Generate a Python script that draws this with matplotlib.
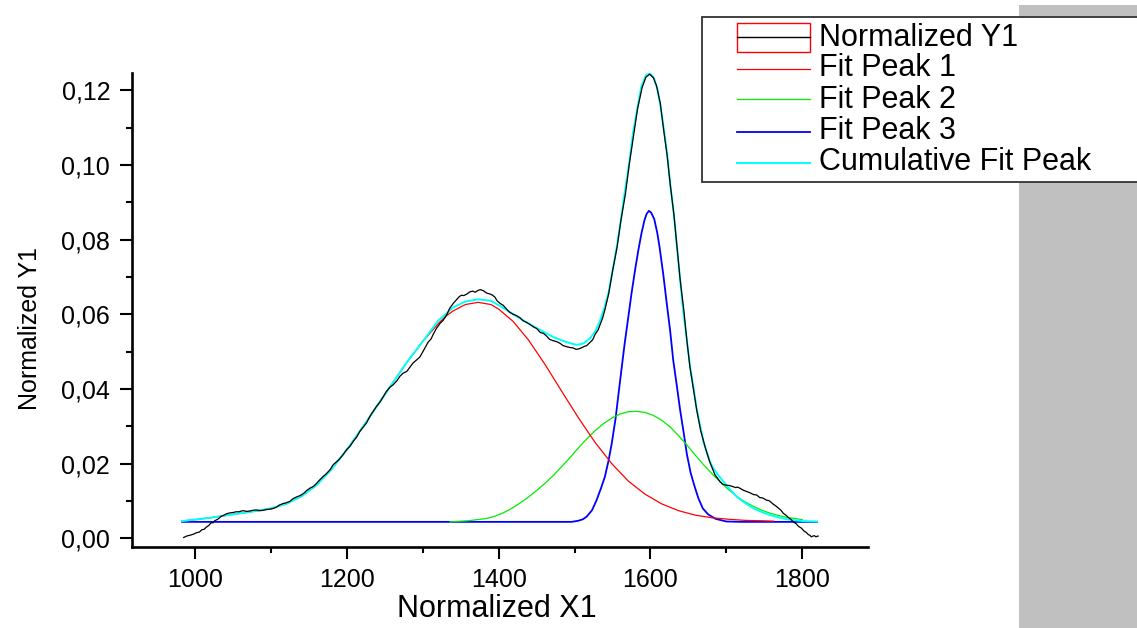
import matplotlib
matplotlib.use("Agg")
import matplotlib.pyplot as plt
from matplotlib.ticker import MultipleLocator, FuncFormatter
from matplotlib.patches import Rectangle
from matplotlib.lines import Line2D

# ---------------- data ----------------
data_x = [985, 989, 993, 998, 1002, 1006, 1009, 1012, 1015, 1018, 1021, 1024, 1026, 1030, 1034, 1038,
          1042, 1046, 1050, 1054, 1058, 1061, 1064, 1068, 1072, 1076, 1081, 1085, 1090, 1094, 1099, 1103,
          1107, 1111, 1116, 1120, 1125, 1129, 1134, 1138, 1143, 1147, 1152, 1156, 1160, 1165, 1169, 1173,
          1178, 1182, 1187, 1191, 1195, 1200, 1204, 1209, 1213, 1217, 1222, 1226, 1230, 1235, 1239, 1244,
          1248, 1252, 1257, 1261, 1266, 1270, 1274, 1279, 1283, 1287, 1292, 1296, 1300, 1304, 1307, 1311,
          1314, 1318, 1323, 1327, 1332, 1335, 1338, 1341, 1345, 1348, 1351, 1354, 1358, 1362, 1366, 1369,
          1373, 1376, 1380, 1384, 1389, 1392, 1395, 1398, 1402, 1406, 1410, 1414, 1419, 1423, 1428, 1432,
          1437, 1441, 1446, 1450, 1455, 1459, 1463, 1467, 1472, 1476, 1481, 1485, 1490, 1494, 1498, 1502,
          1505, 1509, 1513, 1516, 1520, 1524, 1527, 1531, 1534, 1537, 1540, 1545, 1550, 1556, 1561, 1567,
          1572, 1578, 1583, 1589, 1594, 1599, 1604, 1608, 1613, 1617, 1622, 1626, 1631, 1635, 1639, 1644,
          1648, 1652, 1657, 1661, 1666, 1672, 1678, 1685, 1692, 1695, 1698, 1701, 1705, 1709, 1712, 1715,
          1718, 1722, 1727, 1731, 1736, 1740, 1744, 1748, 1753, 1756, 1758, 1762, 1765, 1769, 1772, 1775,
          1779, 1782, 1785, 1788, 1792, 1795, 1799, 1802, 1805, 1808, 1810, 1812, 1814, 1816, 1818, 1819, 1821]
data_y = [0.0002, 0.0006, 0.0008, 0.0011, 0.0015, 0.0017, 0.0023, 0.0024, 0.0030, 0.0034, 0.0041, 0.0042,
          0.0047, 0.0051, 0.0058, 0.0062, 0.0066, 0.0068, 0.0069, 0.0071, 0.0071, 0.0073, 0.0074, 0.0072,
          0.0073, 0.0075, 0.0076, 0.0074, 0.0075, 0.0077, 0.0078, 0.0080, 0.0083, 0.0089, 0.0093, 0.0095,
          0.0099, 0.0106, 0.0111, 0.0114, 0.0120, 0.0128, 0.0135, 0.0139, 0.0147, 0.0158, 0.0166, 0.0173,
          0.0184, 0.0197, 0.0206, 0.0214, 0.0224, 0.0238, 0.0246, 0.0261, 0.0271, 0.0286, 0.0299, 0.0309,
          0.0325, 0.0341, 0.0353, 0.0366, 0.0379, 0.0393, 0.0405, 0.0411, 0.0422, 0.0434, 0.0442, 0.0447,
          0.0458, 0.0469, 0.0478, 0.0485, 0.0499, 0.0514, 0.0525, 0.0534, 0.0547, 0.0562, 0.0576, 0.0584,
          0.0600, 0.0614, 0.0623, 0.0631, 0.0640, 0.0647, 0.0651, 0.0650, 0.0654, 0.0660, 0.0662, 0.0659,
          0.0664, 0.0666, 0.0663, 0.0657, 0.0654, 0.0651, 0.0646, 0.0636, 0.0629, 0.0624, 0.0615, 0.0606,
          0.0600, 0.0597, 0.0591, 0.0583, 0.0578, 0.0573, 0.0566, 0.0562, 0.0551, 0.0549, 0.0542, 0.0533,
          0.0529, 0.0527, 0.0522, 0.0516, 0.0513, 0.0511, 0.0510, 0.0506, 0.0507, 0.0510, 0.0514, 0.0516,
          0.0524, 0.0532, 0.0546, 0.0558, 0.0574, 0.0590, 0.0612, 0.0655, 0.0715, 0.0779, 0.0850, 0.0922,
          0.1000, 0.1082, 0.1150, 0.1207, 0.1235, 0.1243, 0.1233, 0.1212, 0.1165, 0.1100, 0.1025, 0.0949,
          0.0865, 0.0779, 0.0695, 0.0610, 0.0530, 0.0459, 0.0395, 0.0343, 0.0290, 0.0245, 0.0205, 0.0170,
          0.0151, 0.0145, 0.0143, 0.0142, 0.0141, 0.0138, 0.0136, 0.0137, 0.0134, 0.0129, 0.0125, 0.0122,
          0.0117, 0.0116, 0.0109, 0.0108, 0.0102, 0.0101, 0.0098, 0.0091, 0.0087, 0.0080, 0.0075, 0.0067,
          0.0061, 0.0055, 0.0051, 0.0044, 0.0039, 0.0032, 0.0027, 0.0020, 0.0016, 0.0010, 0.0008, 0.0004,
          0.0006, 0.0007, 0.0004, 0.0005, 0.0006]

peak1_x = [983, 1000, 1020, 1040, 1060, 1080, 1100, 1120, 1140, 1160, 1180, 1200,
           1220, 1240, 1260, 1280, 1300, 1320, 1330, 1340, 1356, 1373, 1390, 1400,
           1419, 1439, 1461, 1483, 1505, 1527, 1549, 1571, 1593, 1615, 1637, 1659,
           1681, 1703, 1725, 1745, 1762]
peak1_y = [0.0046, 0.0050, 0.0055, 0.0061, 0.0067, 0.0073, 0.0080, 0.0092, 0.0112, 0.0142, 0.0185, 0.0237,
           0.0295, 0.0355, 0.0415, 0.0474, 0.0527, 0.0574, 0.0594, 0.0609, 0.0626, 0.0632, 0.0626, 0.0614,
           0.0581, 0.0532, 0.0466, 0.0394, 0.0323, 0.0257, 0.0200, 0.0153, 0.0118, 0.0092, 0.0074, 0.0062,
           0.0055, 0.0051, 0.0048, 0.0047, 0.0046]

peak2_x = [1336, 1360, 1384, 1395, 1406, 1417, 1428, 1439, 1450, 1461, 1472, 1483,
           1494, 1505, 1516, 1527, 1538, 1549, 1560, 1571, 1582, 1593, 1604, 1615,
           1626, 1637, 1648, 1659, 1670, 1681, 1692, 1703, 1714, 1725, 1736, 1747,
           1758, 1769, 1780, 1790, 1800]
peak2_y = [0.0044, 0.0047, 0.0053, 0.0059, 0.0068, 0.0080, 0.0094, 0.0110, 0.0128, 0.0147, 0.0168, 0.0192,
           0.0216, 0.0242, 0.0266, 0.0288, 0.0307, 0.0322, 0.0333, 0.0339, 0.0340, 0.0337, 0.0329, 0.0316,
           0.0298, 0.0275, 0.0250, 0.0223, 0.0197, 0.0173, 0.0151, 0.0130, 0.0112, 0.0097, 0.0085, 0.0075,
           0.0067, 0.0061, 0.0056, 0.0053, 0.0050]

peak3_x = [983, 1496, 1505, 1511, 1516, 1523, 1529, 1535, 1540, 1545, 1549, 1554,
           1558, 1562, 1566, 1571, 1575, 1580, 1584, 1588, 1592, 1595, 1598, 1601,
           1605, 1609, 1612, 1617, 1621, 1626, 1630, 1635, 1639, 1644, 1648, 1653,
           1658, 1663, 1669, 1676, 1686, 1700, 1720, 1819]
peak3_y = [0.0044, 0.0044, 0.0047, 0.0051, 0.0058, 0.0075, 0.0102, 0.0135, 0.0165, 0.0210, 0.0254, 0.0320,
           0.0388, 0.0455, 0.0521, 0.0595, 0.0655, 0.0722, 0.0771, 0.0815, 0.0851, 0.0869, 0.0877, 0.0872,
           0.0855, 0.0818, 0.0780, 0.0705, 0.0637, 0.0555, 0.0477, 0.0405, 0.0345, 0.0280, 0.0225, 0.0175,
           0.0140, 0.0108, 0.0080, 0.0064, 0.0052, 0.0045, 0.0044, 0.0044]

cum_x = [983, 1000, 1020, 1040, 1060, 1080, 1100, 1120, 1140, 1160, 1180, 1200,
         1220, 1240, 1260, 1280, 1300, 1320, 1340, 1356, 1373, 1390, 1402, 1415,
         1428, 1450, 1472, 1490, 1503, 1512, 1520, 1527, 1533, 1539, 1545, 1550,
         1556, 1561, 1566, 1572, 1577, 1583, 1588, 1594, 1599, 1604, 1609, 1613,
         1617, 1622, 1626, 1631, 1635, 1639, 1643, 1648, 1652, 1657, 1661, 1666,
         1670, 1675, 1680, 1686, 1692, 1703, 1714, 1725, 1736, 1747, 1758, 1769,
         1780, 1791, 1802, 1819]
cum_y = [0.0046, 0.0050, 0.0055, 0.0061, 0.0067, 0.0073, 0.0080, 0.0092, 0.0112, 0.0142, 0.0185, 0.0237,
         0.0295, 0.0355, 0.0415, 0.0474, 0.0527, 0.0582, 0.0618, 0.0634, 0.0640, 0.0636, 0.0622, 0.0606,
         0.0589, 0.0563, 0.0539, 0.0525, 0.0518, 0.0522, 0.0535, 0.0553, 0.0580, 0.0615, 0.0660, 0.0715,
         0.0785, 0.0852, 0.0925, 0.1005, 0.1085, 0.1155, 0.1210, 0.1240, 0.1245, 0.1235, 0.1205, 0.1160,
         0.1105, 0.1030, 0.0950, 0.0865, 0.0780, 0.0695, 0.0612, 0.0530, 0.0462, 0.0400, 0.0345, 0.0297,
         0.0257, 0.0225, 0.0198, 0.0178, 0.0162, 0.0135, 0.0111, 0.0094, 0.0080, 0.0070, 0.0062, 0.0056,
         0.0051, 0.0048, 0.0046, 0.0045]

legend_labels = ["Normalized Y1", "Fit Peak 1", "Fit Peak 2", "Fit Peak 3", "Cumulative Fit Peak"]
x_label = "Normalized X1"
y_label = "Normalized Y1"

# ---------------- figure ----------------
W, H = 1137, 628
plt.rcParams['font.family'] = ['Liberation Sans', 'DejaVu Sans']
fig = plt.figure(figsize=(W / 100, H / 100), dpi=100)
fig.patch.set_facecolor('white')

def fx(px):
    return px / W

def fy(py):
    return 1 - py / H

# gray strip on the right
fig.add_artist(Rectangle((fx(1019), 0), 1 - fx(1019), fy(5), transform=fig.transFigure,
                         facecolor='#c0c0c0', edgecolor='none', zorder=0))

ax = fig.add_axes([fx(131.7), fy(546.7), (868.3 - 131.7) / W, (546.7 - 72.7) / H])
ax.set_facecolor('none')

ax.plot(peak3_x, peak3_y, color='#0000ff', lw=1.3, zorder=2)
ax.plot(peak2_x, peak2_y, color='#00ee00', lw=0.9, zorder=3)
ax.plot(peak1_x, peak1_y, color='#ff0000', lw=0.9, zorder=4)
ax.plot(cum_x, cum_y, color='#00ffff', lw=1.4, zorder=5)
ax.plot(data_x, data_y, color='black', lw=0.9, zorder=6)

ax.set_xlim(916.6, 1887)
ax.set_ylim(-0.00225, 0.1247)
ax.xaxis.set_major_locator(MultipleLocator(200))
ax.xaxis.set_minor_locator(MultipleLocator(100))
ax.yaxis.set_major_locator(MultipleLocator(0.02))
ax.yaxis.set_minor_locator(MultipleLocator(0.01))
ax.yaxis.set_major_formatter(FuncFormatter(lambda v, p: f"{v:.2f}".replace('.', ',')))

for s in ['top', 'right']:
    ax.spines[s].set_visible(False)
for s in ['left', 'bottom']:
    ax.spines[s].set_linewidth(1.9)
ax.tick_params(which='major', direction='out', length=8.5, width=1.5, pad=7, labelsize=18)
ax.tick_params(which='minor', direction='out', length=4, width=1.5)

ax.set_xlabel(x_label, fontsize=22)
ax.set_ylabel(y_label, fontsize=18)
ax.xaxis.set_label_coords(0.496, -0.100)
ax.yaxis.set_label_coords(-0.122, 0.461)

# ---------------- legend (drawn in figure pixels) ----------------
fig.add_artist(Rectangle((fx(701.7), fy(181.7)), fx(W + 20) - fx(701.7), fy(16.7) - fy(181.7),
                         transform=fig.transFigure, facecolor='white', edgecolor='#333333',
                         lw=1.3, zorder=10, clip_on=False))
h_x0, h_x1 = 736.7, 810
handle_colors = ['black', '#ff0000', '#00ee00', '#0000ff', '#00ffff']
handle_widths = [1.0, 0.9, 0.9, 1.3, 1.4]
handle_y = [36.7, 69, 99.3, 131.7, 162.7]
text_base = [46, 76.5, 107.5, 139, 170.5]
fig.add_artist(Rectangle((fx(h_x0), fy(52.3)), fx(h_x1) - fx(h_x0), fy(23.3) - fy(52.3),
                         transform=fig.transFigure, fill=False, edgecolor='#ff0000', lw=1.0, zorder=11))
for i, lab in enumerate(legend_labels):
    fig.add_artist(Line2D([fx(h_x0), fx(h_x1)], [fy(handle_y[i])] * 2, transform=fig.transFigure,
                          color=handle_colors[i], lw=handle_widths[i], zorder=11))
    fig.text(fx(819), fy(text_base[i]), lab, fontsize=22, ha='left', va='baseline', zorder=12)

fig.savefig("out.png", dpi=100)
